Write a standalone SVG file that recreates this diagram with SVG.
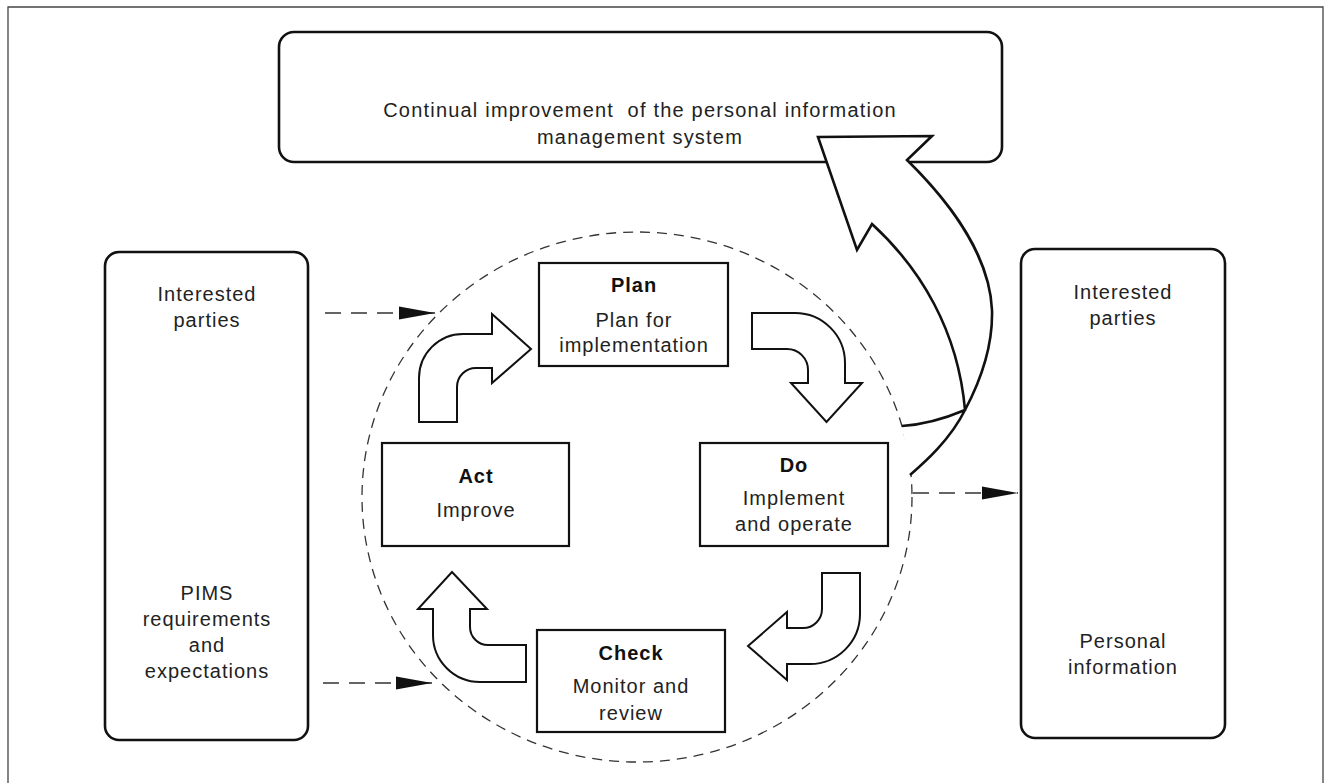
<svg xmlns="http://www.w3.org/2000/svg" width="1327" height="783" viewBox="0 0 1327 783">
<style>
  text { font-family: "Liberation Sans", Arial, Helvetica, sans-serif; font-size: 20px; fill: #222; text-anchor: middle; letter-spacing: 1px; }
  .b { font-weight: bold; fill: #111; }
  .pre { white-space: pre; letter-spacing: 1.2px; }
  .rbox { fill: #fff; stroke: #111; stroke-width: 2.6; }
  .pbox { fill: #fff; stroke: #111; stroke-width: 2.2; }
  .blk { fill: #fff; stroke: #111; stroke-width: 2; stroke-linejoin: miter; }
  .big { fill: #fff; stroke: #111; stroke-width: 2.6; stroke-linejoin: miter; }
  .dash { fill: none; stroke: #333; stroke-width: 1.5; stroke-dasharray: 16 10; }
  .circ { fill: none; stroke: #333; stroke-width: 1.3; stroke-dasharray: 10 7; }
</style>
<defs>
  <marker id="ah" markerUnits="userSpaceOnUse" markerWidth="38" markerHeight="14" refX="36" refY="7" orient="auto">
    <path d="M0,0.5 L36,7 L0,13.5 Z" fill="#111"/>
  </marker>
</defs>
<rect width="1327" height="783" fill="#fff"/>
<path id="frame" d="M8,783 L8,7 L1323,7 L1323,783" fill="none" stroke="#444" stroke-width="1.3"/>

<g id="top-box">
  <rect class="rbox" x="279" y="32" width="723" height="130" rx="15"/>
  <text class="pre" x="640" y="117" xml:space="preserve">Continual improvement  of the personal information</text>
  <text class="pre" x="640" y="144">management system</text>
</g>

<g id="left-box">
  <rect class="rbox" x="105" y="252" width="203" height="488" rx="14"/>
  <text x="207" y="301">Interested</text>
  <text x="207" y="327">parties</text>
  <text x="207" y="600">PIMS</text>
  <text x="207" y="626">requirements</text>
  <text x="207" y="652">and</text>
  <text x="207" y="678">expectations</text>
</g>

<g id="right-box">
  <rect class="rbox" x="1021" y="249" width="204" height="489" rx="14"/>
  <text x="1123" y="299">Interested</text>
  <text x="1123" y="325">parties</text>
  <text x="1123" y="648">Personal</text>
  <text x="1123" y="674">information</text>
</g>

<g id="cycle">
  <ellipse class="circ" cx="637" cy="497" rx="275" ry="265"/>
</g>

<g id="plan">
  <rect class="pbox" x="539" y="263" width="189" height="103"/>
  <text class="b" x="634" y="292">Plan</text>
  <text x="634" y="327">Plan for</text>
  <text x="634" y="352">implementation</text>
</g>

<g id="do">
  <rect class="pbox" x="700" y="443" width="188" height="103"/>
  <text class="b" x="794" y="472">Do</text>
  <text x="794" y="505">Implement</text>
  <text x="794" y="531">and operate</text>
</g>

<g id="check">
  <rect class="pbox" x="537" y="630" width="188" height="102"/>
  <text class="b" x="631" y="660">Check</text>
  <text x="631" y="693">Monitor and</text>
  <text x="631" y="720">review</text>
</g>

<g id="act">
  <rect class="pbox" x="382" y="443" width="187" height="103"/>
  <text class="b" x="476" y="483">Act</text>
  <text x="476" y="517">Improve</text>
</g>

<g id="connectors">
  <line class="dash" x1="325" y1="313" x2="435" y2="313" marker-end="url(#ah)"/>
  <line class="dash" x1="323" y1="683" x2="432" y2="683" marker-end="url(#ah)"/>
  <line class="dash" x1="913" y1="493" x2="1018" y2="493" marker-end="url(#ah)"/>

  <path class="blk" d="M419,422 L419,378 A44,44 0 0 1 463,334 L492,334 L492,314 L531,349 L492,383 L492,368 L476,368 A19,19 0 0 0 457,387 L457,422 Z"/>
  <path class="blk" d="M752,313 L795,313 A50,50 0 0 1 845,363 L845,383 L862,383 L826.5,422 L791,383 L808,383 L808,370 A21,21 0 0 0 787,349 L752,349 Z"/>
  <path class="blk" d="M822,573 L860,573 L860,614 A50,50 0 0 1 810,664 L787,664 L787,680 L748,646 L787,612 L787,628 L803,628 A19,19 0 0 0 822,609 Z"/>
  <path class="blk" d="M526,682 L480,682 A47,47 0 0 1 433,635 L433,609 L418,609 L452,572 L487,609 L470,609 L470,627 A18,18 0 0 0 488,645 L526,645 Z"/>

  <path class="big" d="M910,475 C925,462 950,440 965,410 C982,378 993,345 992,310 C990,262 958,210 907,160 L932,136 L818,137 L857,250 L872,224 C920,268 958,330 965,410 Q932,424 902,426"/>
</g>
</svg>
